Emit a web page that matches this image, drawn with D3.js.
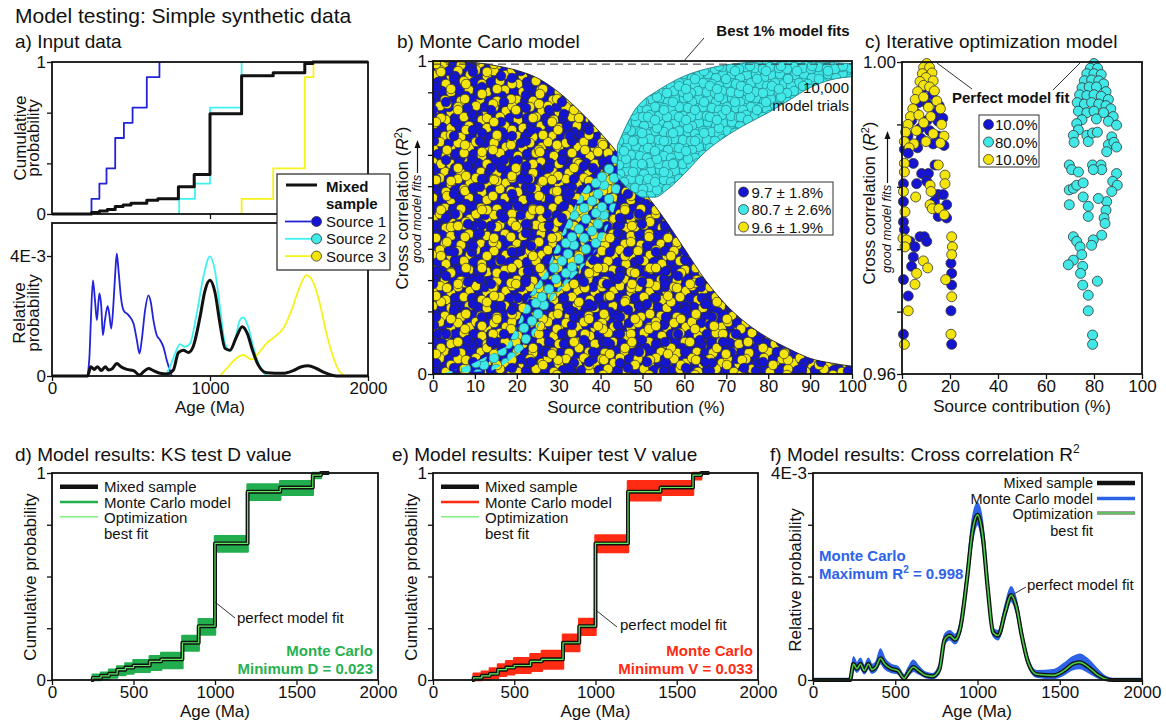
<!DOCTYPE html>
<html>
<head>
<meta charset="utf-8">
<script src="https://cdn.jsdelivr.net/npm/d3@7"></script>
<style>
body { margin: 0; background: #fff; }
</style>
</head>
<body>
<script>
// ---------- data ----------
// a) input data, cumulative steps (age Ma -> cumulative probability after the step)
const s1CdfAge = [250, 300, 345, 400, 455, 510, 600, 680];
const s1Cdf    = [0.1, 0.2, 0.3, 0.5, 0.6, 0.7, 0.9, 1.0];
const s2CdfAge = [805, 905, 1000, 1200];
const s2Cdf    = [0.1, 0.2, 0.7, 1.0];
const s3CdfAge = [1200, 1400, 1600, 1655];
const s3Cdf    = [0.1, 0.3, 0.9, 1.0];
const mixCdfAge = [250, 300, 350, 400, 450, 500, 600, 670, 800, 900, 1000, 1200, 1400, 1600, 1650];
const mixCdf    = [0.01, 0.02, 0.03, 0.05, 0.06, 0.07, 0.09, 0.10, 0.18, 0.26, 0.66, 0.91, 0.93, 0.99, 1.0];

// a) relative probability curves (units of 1E-3)
const s1PdpAge = [225,238,246,259,272,284,295,301,312,322,335,352,362,375,389,400,410,421,436,453,484,516,537,554,568,589,610,625,642,663,684,705,726,758];
const s1Pdp    = [0,0.75,1.86,3.19,2.53,1.86,2.53,2.75,2.30,1.36,1.86,2.33,2.08,1.58,2.42,3.41,4.08,3.52,2.64,2.19,2.03,1.75,1.20,0.75,1.20,2.19,2.69,2.47,1.86,1.36,1.20,0.97,0.53,0];
const s2PdpAge = [716,747,779,810,842,874,916,958,1000,1031,1063,1095,1126,1158,1189,1210,1242,1274,1316,1358];
const s2Pdp    = [0,0.31,0.75,1.06,0.97,1.09,2.08,3.30,3.99,3.52,2.30,1.09,0.84,1.20,1.86,1.95,1.64,0.97,0.31,0];
const s3PdpAge = [1063,1105,1158,1210,1263,1305,1358,1410,1463,1516,1568,1610,1652,1695,1737,1779,1821,1863];
const s3Pdp    = [0,0.25,0.55,0.70,0.55,0.75,1.09,1.31,1.58,2.19,2.97,3.36,3.14,2.42,1.42,0.64,0.14,0];
const mixPdpAge = [0,225,246,267,288,312,337,358,383,410,436,474,516,554,579,610,642,684,726,768,800,832,863,895,937,968,1000,1031,1063,1095,1126,1168,1204,1236,1269,1305,1358,1463,1526,1579,1621,1673,1726,1779,1821,2000];
const mixPdp    = [0,0,0.31,0.22,0.31,0.18,0.31,0.20,0.25,0.42,0.31,0.22,0.18,0.03,0.14,0.25,0.18,0.09,0.07,0.20,0.78,0.86,0.78,1.00,1.97,2.84,3.19,2.80,1.75,0.92,0.86,1.31,1.64,1.42,0.86,0.37,0.11,0.09,0.18,0.31,0.34,0.25,0.11,0.02,0,0];

// b) Monte Carlo trial clouds (source contribution %, R2 envelope)
const bMixX   = [0,5,10,15,20,25,30,35,40,45,50,55,60,65,70,75,80,85,90,95,100];
const bMixTop = [1,0.998,0.995,0.985,0.97,0.945,0.9,0.84,0.77,0.69,0.59,0.5,0.4,0.3,0.22,0.16,0.115,0.08,0.05,0.035,0.025];
const bCyanX   = [44,46,48,50,53,56,60,65,70,75,80,85,90,95,100];
const bCyanTop = [0.73,0.79,0.84,0.872,0.9,0.925,0.952,0.974,0.988,0.995,0.999,1.0,0.998,0.995,0.992];
const bCyanBot = [0.63,0.6,0.58,0.565,0.565,0.59,0.64,0.71,0.76,0.80,0.835,0.875,0.915,0.94,0.95];
const bCyanLowLeft  = [[2,0],[9,0.03],[17.5,0.088],[20,0.15],[23,0.25],[27,0.33],[29.5,0.41],[33,0.514],[36,0.59],[40,0.65],[43,0.7]];
const bCyanLowRight = [[46,0.68],[44.6,0.59],[43,0.514],[39.8,0.41],[35,0.33],[29,0.25],[26,0.17],[22.3,0.088],[17.5,0.035],[14,0.01]];
const bLegend = ["9.7 \u00b1 1.8%", "80.7 \u00b1 2.6%", "9.6 \u00b1 1.9%"];

// c) iterative optimization trials [source contribution %, R2]
const c1Pts = [[10,.9988],[11,.9978],[8.5,.9965],[12.5,.9958],[7,.9948],[10.5,.9946],[15.5,.9944],[5.5,.9935],[13.5,.9934],[4,.9925],[10.5,.9925],[15,.9924],[7.5,.9915],[17,.9928],[2.5,.9905],[11.5,.9912],[15,.9905],[8,.9902],[13,.9895],[17.5,.9893],[1,.9888],[6.5,.9890],
  [4.7,.9870],[0.6,.9844],[0.6,.9821],[0.6,.9795],[1.0,.9785],[6.1,.9844],[8.2,.9857],[11.0,.9857],[10.3,.9847],[13.75,.9868],[15.1,.9830],[13.5,.9821],[15.1,.9802],[17.2,.9830],[18.6,.9817],[18.6,.9800],
  [3.3,.9770],[5.4,.9763],[7.5,.9776],[9.3,.9776],[10.3,.9770],[4.7,.9750],[4.0,.9738],[0.6,.9721],[2.6,.9700],[0.6,.9651],[20.4,.9742],[20.7,.9729],[20.7,.9714],[20.4,.9681],[20.7,.9638],[2.6,.9883]];
const c3Pts = [[10.3,.9998],[9,.9993],[11.5,.9993],[8.5,.9985],[12.5,.9986],[10,.9980],[7.5,.9975],[13,.9976],[9,.9970],[11.5,.9968],[6.5,.9962],[13.5,.9963],[5.5,.9952],[9,.9955],[14.5,.9950],[4.5,.9940],[11,.9942],[16,.9940],[3.5,.9930],[7,.9932],[12,.9930],[2.5,.9920],[9,.9922],[16.5,.9920],[1.5,.9910],[6,.9912],[13,.9908],[17.5,.9905],[1,.9898],[5,.9895],[10,.9898],[16,.9896],[3,.9890],
  [1.0,.9870],[1.0,.9859],[0.6,.9834],[1.25,.9808],[0.4,.9774],[1.9,.9772],[1.25,.9763],[5.7,.9827],[11.7,.9842],[12.1,.9834],[11.7,.9817],[15.1,.9868],[12.6,.9812],[15.4,.9812],[17.9,.9855],[17.9,.9844],[17.6,.9804],
  [6.1,.9729],[5.4,.9715],[8.9,.9745],[10.7,.9736],[2.6,.9681],[1.0,.9638],[20.7,.9776],[21.0,.9763],[20.7,.9753],[18.2,.9721],[20.7,.9699],[20.4,.9651]];
const c2Pts = [[80,.9998],[78.5,.9992],[81.5,.9992],[77,.9985],[80,.9985],[83,.9984],[76,.9976],[79,.9977],[82,.9976],[84,.9972],[75,.9967],[78,.9968],[81,.9968],[85,.9962],[74,.9958],[77,.9957],[80,.9958],[83,.9956],[86,.9952],[73,.9948],[76,.9946],[79,.9948],[82,.9946],[85,.9944],[87,.9940],[73.5,.9937],[77,.9935],[80,.9937],[84,.9935],[88,.9930],[75,.9926],[81,.9927],[86,.9924],
  [72.8,.9921],[73.5,.9913],[71.4,.9906],[71.7,.9897],[77,.9906],[77.6,.9898],[79.4,.9909],[81.4,.9910],[87.4,.9904],[89.4,.9919],[86,.9894],[88.3,.9897],[85.3,.9885],[89.4,.9891],[69.7,.9868],[70.7,.9862],[73.5,.9859],[69.7,.9836],[71.4,.9838],[72.8,.9842],[75.5,.9845],[69.7,.9817],[75.5,.9827],[79.4,.9868],[82.9,.9868],[83.2,.9862],[79.7,.9862],[89.4,.9857],[87.8,.9847],[89.7,.9842],[87.4,.9834],[85.3,.9821],[85,.9810],[84.2,.9800],[84.6,.9793],[81.8,.9825],[77.6,.9815],[77.6,.9802],
  [83.2,.9778],[79.7,.9772],[79,.9765],[71.4,.9776],[72.8,.9770],[74.2,.9763],[74.9,.9753],[71.4,.9746],[69.3,.9740],[75.3,.9738],[74.4,.9729],[75.3,.9714],[81.4,.9719],[77.6,.9701],[77.6,.9681],[79.4,.9650],[79.4,.9638]];
const cLegend = ["10.0%", "80.0%", "10.0%"];

// d) e) Monte Carlo model range around the mixed sample CDF (per step of mixCdfAge)
const dLo = [0,0.005,0.012,0.024,0.032,0.04,0.05,0.058,0.142,0.22,0.621,0.871,0.895,0.976,1];
const dHi = [0.025,0.035,0.05,0.065,0.08,0.095,0.115,0.13,0.213,0.293,0.694,0.944,0.96,1,1];
const eLo = [0,0.004,0.01,0.02,0.028,0.035,0.045,0.056,0.14,0.218,0.618,0.868,0.895,0.97,1];
const eHi = [0.03,0.04,0.055,0.075,0.09,0.105,0.125,0.14,0.218,0.295,0.698,0.96,0.96,1,1];
// f) Monte Carlo model range around the mixed sample PDP (per point of mixPdpAge)
const fHi = [0.03,0.03,0.45,0.33,0.42,0.28,0.42,0.3,0.35,0.6,0.42,0.3,0.26,0.1,0.24,0.38,0.27,0.15,0.12,0.3,0.88,0.95,0.88,1.12,2.15,3.1,3.42,3.05,1.9,1.0,0.95,1.45,1.8,1.55,0.95,0.45,0.18,0.2,0.32,0.45,0.5,0.4,0.22,0.07,0.03,0.03];
const fLo = [0,0,0.22,0.15,0.22,0.12,0.22,0.13,0.18,0.32,0.22,0.15,0.12,0,0.08,0.17,0.12,0.05,0.03,0.13,0.7,0.78,0.7,0.9,1.85,2.65,3.0,2.6,1.62,0.85,0.78,1.2,1.52,1.3,0.78,0.3,0.06,0.03,0.1,0.2,0.22,0.15,0.05,0,0,0];

// ---------- setup ----------
const W = 1166, H = 726;
const FONT = "'Liberation Sans', Arial, Helvetica, sans-serif";
const BLUE = "#1414d2", CYAN = "#40e8e8", YELLOW = "#f3e40d";
const INK = "#111";
const svg = d3.select("body").append("svg").attr("width", W).attr("height", H)
    .style("font-family", FONT);
const defs = svg.append("defs");

function makePanel(x0, x1, y0, y1, xd, yd) {
    return {x0, x1, y0, y1,
        x: d3.scaleLinear().domain(xd).range([x0, x1]),
        y: d3.scaleLinear().domain(yd).range([y1, y0])};
}
const pAT = makePanel(52, 368, 62, 214, [0, 2000], [0, 1]);
const pAB = makePanel(52, 368, 223, 376, [0, 2000], [0, 5.1]);
const pB  = makePanel(433, 852, 61, 374, [0, 100], [0, 1]);
const pC  = makePanel(902, 1142, 62, 374, [0, 100], [0.96, 1]);
const pD  = makePanel(52, 378, 473, 680, [0, 2000], [0, 1]);
const pE  = makePanel(433, 758, 473, 680, [0, 2000], [0, 1]);
const pF  = makePanel(813, 1142, 473, 680, [0, 2000], [0, 4]);

function txt(x, y, s, o = {}) {
    const t = svg.append("text").attr("x", x).attr("y", y)
        .attr("font-size", o.size || 17)
        .attr("text-anchor", o.anchor || "start")
        .attr("fill", o.fill || INK)
        .text(s);
    if (o.bold) t.attr("font-weight", "bold");
    if (o.italic) t.attr("font-style", "italic");
    if (o.rot) t.attr("transform", `rotate(-90,${x},${y})`);
    return t;
}
function styleAxis(g) {
    g.select(".domain").remove();
    g.attr("font-family", FONT).attr("font-size", 17);
    g.selectAll("line").attr("stroke", INK).attr("stroke-width", 1.3);
    g.selectAll("text").attr("fill", INK);
}
function axisX(p, ticks, fmt) {
    const g = svg.append("g").attr("transform", `translate(0,${p.y1})`)
        .call(d3.axisBottom(p.x).tickValues(ticks).tickSize(5).tickPadding(1).tickFormat(fmt));
    styleAxis(g);
}
function axisY(p, ticks, fmt) {
    const g = svg.append("g").attr("transform", `translate(${p.x0},0)`)
        .call(d3.axisLeft(p.y).tickValues(ticks).tickSize(5).tickPadding(1).tickFormat(fmt));
    styleAxis(g);
}
function frame(p) {
    svg.append("rect").attr("x", p.x0).attr("y", p.y0)
        .attr("width", p.x1 - p.x0).attr("height", p.y1 - p.y0)
        .attr("fill", "none").attr("stroke", INK).attr("stroke-width", 1.8);
}
function endsOnly(lo, hi) { return d => d === lo[0] ? lo[1] : (d === hi[0] ? hi[1] : ""); }
function stepLine(p) {
    return d3.line().x(d => p.x(d[0])).y(d => p.y(d[1])).curve(d3.curveStepAfter);
}
function smoothLine(p) {
    return d3.line().x(d => p.x(d[0])).y(d => p.y(d[1])).curve(d3.curveMonotoneX);
}
function path(d, stroke, w, fill = "none") {
    return svg.append("path").attr("d", d).attr("fill", fill)
        .attr("stroke", stroke).attr("stroke-width", w)
        .attr("stroke-linejoin", "round");
}
function dot(x, y, fill, r = 5) {
    svg.append("circle").attr("cx", x).attr("cy", y).attr("r", r)
        .attr("fill", fill).attr("stroke", "#333").attr("stroke-width", 0.8);
}

// patterns: texture of the dense Monte Carlo clouds (tiles of different sizes are stacked
// so the repetition does not show)
function makePattern(id, size, circles, bg, stroke) {
    const p = defs.append("pattern").attr("id", id)
        .attr("patternUnits", "userSpaceOnUse").attr("width", size).attr("height", size);
    if (bg) p.append("rect").attr("width", size).attr("height", size).attr("fill", bg);
    for (const [cx, cy, col] of circles)
        for (const dx of [-size, 0, size])
            for (const dy of [-size, 0, size])
                p.append("circle").attr("cx", cx + dx).attr("cy", cy + dy).attr("r", 4.8)
                    .attr("fill", col).attr("stroke", stroke).attr("stroke-width", 0.7);
}
const Y = YELLOW, B = BLUE;
makePattern("pBY", 36, [[2,3,Y],[10,1,B],[19,4,Y],[28,2,B],[6,10,B],[14,12,Y],
    [23,10,B],[32,9,Y],[1,18,Y],[10,19,B],[19,20,Y],[27,18,B],[34,24,B],
    [4,27,B],[13,28,Y],[21,29,B],[29,29,Y],[8,34,Y],[17,35,B],[26,35,Y]], BLUE, "#2a2a2a");
makePattern("pBY2", 46, [[5,7,Y],[20,3,B],[33,12,Y],[12,22,B],[27,26,Y],[41,30,B],[6,38,Y],[22,41,B],[37,43,Y]],
    null, "#2a2a2a");
makePattern("pBY3", 58, [[9,14,B],[30,6,Y],[48,20,B],[18,36,Y],[40,44,B],[52,52,Y],[4,50,B],[27,52,B]],
    null, "#2a2a2a");
makePattern("pCy", 24, [[3,3,CYAN],[12,2,CYAN],[20,6,CYAN],[7,11,CYAN],[16,12,CYAN],[23,14,CYAN],
    [2,19,CYAN],[11,20,CYAN],[19,21,CYAN]], CYAN, "#1f7f84");
makePattern("pCy2", 31, [[6,4,CYAN],[22,9,CYAN],[13,17,CYAN],[28,24,CYAN],[4,27,CYAN]], null, "#1f7f84");
makePattern("pCyLow", 30, [[4,5,CYAN],[16,9,CYAN],[26,3,CYAN],[9,19,CYAN],[22,21,CYAN],[14,28,CYAN],[28,14,CYAN],[2,27,CYAN]],
    null, "#1f7f84");

// ---------- titles ----------
txt(15, 23, "Model testing: Simple synthetic data", {size: 21});
txt(15, 48, "a) Input data", {size: 19});
txt(397, 48, "b) Monte Carlo model", {size: 19});
txt(865, 48, "c) Iterative optimization model", {size: 19});
txt(15, 461, "d) Model results: KS test D value", {size: 19});
txt(392, 461, "e) Model results: Kuiper test V value", {size: 19});
const fTitle = txt(770, 461, "f) Model results: Cross correlation R", {size: 19});
fTitle.append("tspan").attr("font-size", 12).attr("dy", -8).text("2");

// ---------- a) top: cumulative ----------
{
    const p = pAT, line = stepLine(p);
    path(line([[s1CdfAge[0], 0], ...d3.zip(s1CdfAge, s1Cdf)]), "#2323d8", 1.8);
    path(line([[s2CdfAge[0], 0], ...d3.zip(s2CdfAge, s2Cdf)]), "#3ff2f2", 1.8);
    path(line([[s3CdfAge[0], 0], ...d3.zip(s3CdfAge, s3Cdf)]), "#f6f21a", 1.8);
    path(line([[0, 0], ...d3.zip(mixCdfAge, mixCdf), [2000, 1]]), INK, 3);
    frame(p);
    axisY(p, [0, 1 / 3, 2 / 3, 1], endsOnly([0, "0"], [1, "1"]));
    axisX(p, [1000], () => "");
    txt(26, 138, "Cumulative", {rot: true, anchor: "middle"});
    txt(39, 138, "probability", {rot: true, anchor: "middle"});
}
// ---------- a) bottom: relative probability ----------
{
    const p = pAB, line = smoothLine(p);
    path(line(d3.zip(s1PdpAge, s1Pdp)), "#2323d8", 1.8);
    path(line(d3.zip(s2PdpAge, s2Pdp)), "#3ff2f2", 1.8);
    path(line(d3.zip(s3PdpAge, s3Pdp)), "#f6f21a", 1.8);
    path(line(d3.zip(mixPdpAge, mixPdp)), INK, 3);
    frame(p);
    axisY(p, [0, 4], d => d === 0 ? "0" : "4E-3");
    axisX(p, [0, 1000, 2000], d3.format("d"));
    txt(210, 413, "Age (Ma)", {anchor: "middle"});
    txt(25, 313, "Relative", {rot: true, anchor: "middle"});
    txt(39, 313, "probability", {rot: true, anchor: "middle"});
    // legend
    svg.append("rect").attr("x", 277).attr("y", 174).attr("width", 113).attr("height", 96)
        .attr("fill", "#fff").attr("stroke", "#222").attr("stroke-width", 1.2);
    path(`M286,185H317`, INK, 3);
    txt(326, 192, "Mixed", {size: 15, bold: true});
    txt(326, 209, "sample", {size: 15, bold: true});
    const cols = [["#2323d8", BLUE], ["#3ff2f2", CYAN], ["#f6f21a", YELLOW]];
    ["Source 1", "Source 2", "Source 3"].forEach((s, i) => {
        const y = 221.5 + i * 17.3;
        path(`M285,${y}H311`, cols[i][0], 1.8);
        dot(316.5, y, cols[i][1], 5);
        txt(326, y + 5.5, s, {size: 15});
    });
}

// ---------- b) Monte Carlo model ----------
{
    const p = pB;
    const area = d3.area().x(d => p.x(d[0])).y0(p.y(0)).y1(d => p.y(d[1])).curve(d3.curveMonotoneX);
    const mix = d3.zip(bMixX, bMixTop);
    path(area(mix), "none", 0, "url(#pBY)");
    path(area(mix), "none", 0, "url(#pBY2)");
    path(area(mix), "none", 0, "url(#pBY3)");
    path(d3.line().x(d => p.x(d[0])).y(d => p.y(d[1])).curve(d3.curveMonotoneX)(mix), "#222", 0.9);
    const poly = d3.line().x(d => p.x(d[0])).y(d => p.y(d[1])).curve(d3.curveLinearClosed);
    path(poly([...bCyanLowLeft, ...bCyanLowRight]), "none", 0, "url(#pCyLow)");
    const band = d3.area().x(d => p.x(d[0])).y0(d => p.y(d[2])).y1(d => p.y(d[1])).curve(d3.curveMonotoneX);
    const cy = d3.zip(bCyanX, bCyanTop, bCyanBot);
    path(band(cy), "none", 0, "url(#pCy)");
    path(band(cy), "#1f7f84", 0.9, "url(#pCy2)");
    // best 1% line
    svg.append("line").attr("x1", p.x(0)).attr("x2", p.x(100)).attr("y1", p.y(0.99)).attr("y2", p.y(0.99))
        .attr("stroke", "#333").attr("stroke-width", 1).attr("stroke-dasharray", "8,5");
    frame(p);
    axisY(p, d3.range(0, 11).map(d => d / 10), d => d === 0 ? "0" : (d === 1 ? "1" : ""));
    axisX(p, d3.range(0, 101, 10), d3.format("d"));
    txt(636, 413, "Source contribution (%)", {anchor: "middle"});
    const yl = txt(408, 208, "Cross correlation (", {rot: true, anchor: "middle"});
    yl.append("tspan").attr("font-style", "italic").text("R");
    yl.append("tspan").attr("font-size", 11).attr("dy", -6).text("2");
    yl.append("tspan").attr("dy", 6).text(")");
    txt(421, 263, "good model fits", {rot: true, size: 13, italic: true});
    path("M417.5,173V146", INK, 1.2);
    path("M417.5,140L414.5,148L420.5,148Z", "none", 0, INK);
    txt(783, 36, "Best 1% model fits", {size: 15, bold: true, anchor: "middle"});
    path("M704,38L683,62", "#333", 1);
    txt(849, 93, "10,000", {size: 15, anchor: "end"});
    txt(849, 111, "model trials", {size: 15, anchor: "end"});
    svg.append("rect").attr("x", 735).attr("y", 182).attr("width", 98).attr("height", 53)
        .attr("fill", "#fff").attr("stroke", "#333").attr("stroke-width", 1);
    [BLUE, CYAN, YELLOW].forEach((c, i) => {
        const y = 192 + i * 17.5;
        dot(743.5, y, c, 5);
        txt(751.5, y + 5.5, bLegend[i], {size: 15});
    });
}

// ---------- c) Iterative optimization model ----------
{
    const p = pC;
    c2Pts.forEach(d => dot(p.x(d[0]), p.y(d[1]), CYAN));
    c1Pts.slice(0, 22).forEach(d => dot(p.x(d[0]), p.y(d[1]), BLUE));
    c3Pts.slice(0, 33).forEach(d => dot(p.x(d[0]), p.y(d[1]), YELLOW));
    c1Pts.slice(22).forEach(d => dot(p.x(d[0]), p.y(d[1]), BLUE));
    c3Pts.slice(33).forEach(d => dot(p.x(d[0]), p.y(d[1]), YELLOW));
    frame(p);
    axisY(p, d3.range(0, 6).map(i => 0.96 + i * 0.008), d => Math.abs(d - 0.96) < 1e-6 ? "0.96" : (Math.abs(d - 1) < 1e-6 ? "1.00" : ""));
    axisX(p, d3.range(0, 101, 20), d3.format("d"));
    txt(1022, 412, "Source contribution (%)", {anchor: "middle"});
    const yl = txt(875, 203, "Cross correlation (", {rot: true, anchor: "middle"});
    yl.append("tspan").attr("font-style", "italic").text("R");
    yl.append("tspan").attr("font-size", 11).attr("dy", -6).text("2");
    yl.append("tspan").attr("dy", 6).text(")");
    txt(891, 273, "good model fits", {rot: true, size: 13, italic: true});
    path("M887.5,183V137", INK, 1.2);
    path("M887.5,131L884.5,139L890.5,139Z", "none", 0, INK);
    path("M937,63L972,89", "#333", 1);
    path("M1080,63L1053,90", "#333", 1);
    txt(952, 103, "Perfect model fit", {size: 15, bold: true});
    svg.append("rect").attr("x", 979).attr("y", 115).attr("width", 60).attr("height", 52)
        .attr("fill", "#fff").attr("stroke", "#333").attr("stroke-width", 1);
    [BLUE, CYAN, YELLOW].forEach((c, i) => {
        const y = 124.5 + i * 17.5;
        dot(988.5, y, c, 5);
        txt(995, y + 5.5, cLegend[i], {size: 15});
    });
}

// ---------- d) / e) cumulative model results ----------
function cdfPanel(p, lo, hi, col, stat, txtCol, fitLbl, lead) {
    const band = d3.area().x(d => p.x(d[0])).y0(d => p.y(d[1])).y1(d => p.y(d[2])).curve(d3.curveStepAfter);
    path(band([...d3.zip(mixCdfAge, lo, hi), [1700, 1, 1]]), col, 2.5, col);
    const line = stepLine(p);
    const pts = [[240, 0], ...d3.zip(mixCdfAge, mixCdf), [1700, 1]];
    path(line(pts), INK, 4);
    path(line(pts), "#5fe85f", 1.2);
    frame(p);
    axisY(p, [0, 0.25, 0.5, 0.75, 1], endsOnly([0, "0"], [1, "1"]));
    axisX(p, [0, 500, 1000, 1500, 2000], d3.format("d"));
    txt((p.x0 + p.x1) / 2, 717, "Age (Ma)", {anchor: "middle"});
    txt(p.x0 - 16, 577, "Cumulative probability", {rot: true, anchor: "middle"});
    const lx = p.x0 + 8;
    path(`M${lx},486.7h38`, INK, 4.5);
    path(`M${lx},502h38`, col, 2.5);
    path(`M${lx},516.7h38`, "#7ef07e", 1.5);
    txt(lx + 44, 492, "Mixed sample", {size: 15});
    txt(lx + 44, 507.5, "Monte Carlo model", {size: 15});
    txt(lx + 44, 522.5, "Optimization", {size: 15});
    txt(lx + 44, 539, "best fit", {size: 15});
    path(lead, "#333", 1);
    txt(fitLbl[0], fitLbl[1], "perfect model fit", {size: 15});
    txt(p.x1 - 5, 655.5, "Monte Carlo", {size: 15, bold: true, anchor: "end", fill: txtCol});
    txt(p.x1 - 5, 673.5, stat, {size: 15, bold: true, anchor: "end", fill: txtCol});
}
cdfPanel(pD, dLo, dHi, "#22ad4f", "Minimum D = 0.023", "#27b150", [237, 623], "M215,602L235,618");
cdfPanel(pE, eLo, eHi, "#ff2b12", "Minimum V = 0.033", "#ff2b12", [620, 630], "M597,611L617,627");

// ---------- f) cross correlation ----------
{
    const p = pF;
    const band = d3.area().x(d => p.x(d[0])).y0(d => p.y(d[1])).y1(d => p.y(d[2])).curve(d3.curveMonotoneX);
    path(band(d3.zip(mixPdpAge, fLo, fHi)), "#2b62e6", 1.5, "#2b62e6");
    const line = smoothLine(p);
    const pts = d3.zip(mixPdpAge, mixPdp);
    path(line(pts), INK, 4.2);
    path(line(pts), "#48cc48", 1.6);
    frame(p);
    axisY(p, [0, 1, 2, 3, 4], d => d === 0 ? "0" : (d === 4 ? "4E-3" : ""));
    axisX(p, [0, 500, 1000, 1500, 2000], d3.format("d"));
    txt(977, 717, "Age (Ma)", {anchor: "middle"});
    txt(801, 580, "Relative probability", {rot: true, anchor: "middle"});
    path("M1097,483h38", INK, 4.5);
    path("M1097,498.5h38", "#2b62e6", 3.5);
    path("M1097,513h38", "#444", 3.2);
    path("M1097,513h38", "#6be86b", 1.6);
    txt(1093, 488, "Mixed sample", {size: 14.5, anchor: "end"});
    txt(1093, 503.5, "Monte Carlo model", {size: 14.5, anchor: "end"});
    txt(1093, 518.5, "Optimization", {size: 14.5, anchor: "end"});
    txt(1093, 536, "best fit", {size: 14.5, anchor: "end"});
    txt(819, 561, "Monte Carlo", {size: 15, bold: true, fill: "#2d62ea"});
    const mr = txt(819, 579, "Maximum R", {size: 15, bold: true, fill: "#2d62ea"});
    mr.append("tspan").attr("font-size", 10).attr("dy", -6).text("2");
    mr.append("tspan").attr("dy", 6).text(" = 0.998");
    path("M1012,595L1026,587", "#333", 1);
    txt(1027, 590, "perfect model fit", {size: 15});
}
</script>
</body>
</html>
